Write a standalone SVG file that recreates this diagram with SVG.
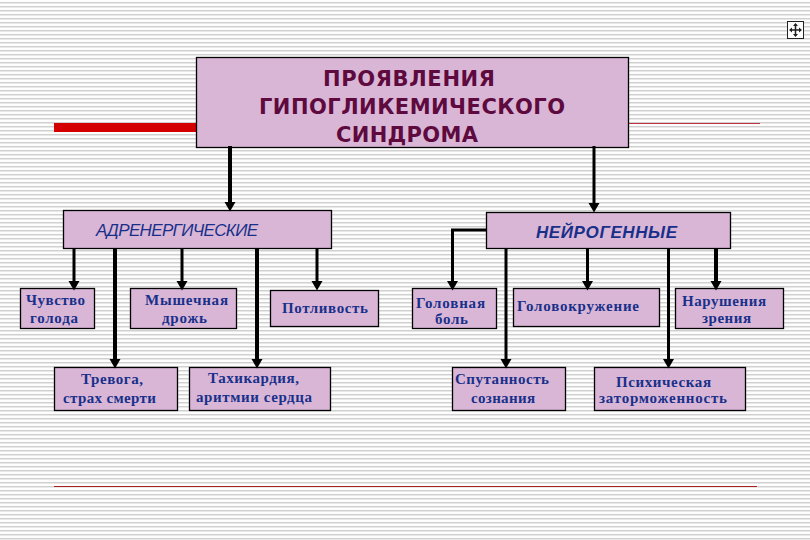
<svg xmlns="http://www.w3.org/2000/svg" width="810" height="540" viewBox="0 0 810 540">
<defs>
<pattern id="stripes" width="4" height="4" patternUnits="userSpaceOnUse"><rect width="4" height="4" fill="#fdfdfd"/><rect y="2" width="4" height="1" fill="#d0d0d0"/><rect y="3" width="4" height="1" fill="#e8e8e8"/></pattern>
<marker id="ah" markerUnits="userSpaceOnUse" markerWidth="10" markerHeight="12" refX="5" refY="5.500" orient="auto" viewBox="0 0 10 11"><path d="M0 0L9.500 5.500L0 11Z" fill="#000"/></marker>
</defs>
<style>
.box{fill:#d9b6d6;stroke:#000;stroke-width:1.300}
.t{font-family:"Liberation Serif","DejaVu Serif",serif;font-weight:bold;font-size:15px;fill:#18308a;text-anchor:middle}
.h{font-family:"DejaVu Sans","Liberation Sans",sans-serif;font-weight:bold;font-size:21px;fill:#5e0a3e;text-anchor:middle}
.c{fill:none;stroke:#000;stroke-width:3}
.w{stroke-width:4}
</style>
<rect width="810" height="540" fill="url(#stripes)"/>
<g id="rules">
<rect x="54" y="123" width="143" height="9" fill="#d40000"/>
<line x1="629" y1="123.500" x2="760" y2="123.500" stroke="#c03040" stroke-width="1"/>
<line x1="54" y1="486.500" x2="757" y2="486.500" stroke="#a82020" stroke-width="1"/>
</g>
<g id="nav-icon"><rect x="787.500" y="21.500" width="16" height="17" fill="#fff" stroke="#222" stroke-width="1"/><path d="M795.500 24V36M790 30H801" stroke="#222" stroke-width="1.500" fill="none"/><path d="M795.500 23L793 26H798ZM795.500 37L793 34H798ZM789 30L792 27.500V32.500ZM802 30L799 27.500V32.500Z" fill="#222"/></g>
<g id="n-root"><rect class="box" x="196.500" y="57.500" width="432" height="90"/><text class="h" x="409" y="86" textLength="172">ПРОЯВЛЕНИЯ</text><text class="h" x="412" y="114" textLength="306">ГИПОГЛИКЕМИЧЕСКОГО</text><text class="h" x="407" y="142" textLength="142">СИНДРОМА</text></g>
<g id="n-adr"><rect class="box" x="63.500" y="210.500" width="268" height="38"/><text x="177" y="236" textLength="162" style="font-family:'Liberation Sans',sans-serif;font-style:italic;font-size:17px;fill:#18308a;text-anchor:middle">АДРЕНЕРГИЧЕСКИЕ</text></g>
<g id="n-neu"><rect class="box" x="486.500" y="212.500" width="244" height="36"/><text x="606.500" y="238" textLength="141" style="font-family:'Liberation Sans',sans-serif;font-style:italic;font-weight:bold;font-size:17px;fill:#18308a;text-anchor:middle">НЕЙРОГЕННЫЕ</text></g>
<g id="n1"><rect class="box" x="20.500" y="288.500" width="74" height="40"/><text class="t" x="55.500" y="305" textLength="59">Чувство</text><text class="t" x="54" y="323" textLength="48">голода</text></g>
<g id="n2"><rect class="box" x="130.500" y="288.500" width="106" height="40"/><text class="t" x="186.500" y="305" textLength="83">Мышечная</text><text class="t" x="184.500" y="323" textLength="45">дрожь</text></g>
<g id="n3"><rect class="box" x="270.500" y="290.500" width="108" height="36"/><text class="t" x="325" y="313" textLength="86">Потливость</text></g>
<g id="n4"><rect class="box" x="54.500" y="367.500" width="123" height="43"/><text class="t" x="112" y="384" textLength="62">Тревога,</text><text class="t" x="109.500" y="403" textLength="93">страх смерти</text></g>
<g id="n5"><rect class="box" x="189.500" y="367.500" width="141" height="43"/><text class="t" x="253.500" y="383" textLength="91">Тахикардия,</text><text class="t" x="254" y="402" textLength="116">аритмии сердца</text></g>
<g id="n6"><rect class="box" x="412.500" y="288.500" width="84" height="40"/><text class="t" x="450.500" y="308" textLength="69">Головная</text><text class="t" x="451.500" y="324" textLength="33">боль</text></g>
<g id="n7"><rect class="box" x="513.500" y="288.500" width="146" height="38"/><text class="t" x="578" y="311" textLength="122">Головокружение</text></g>
<g id="n8"><rect class="box" x="675.500" y="288.500" width="108" height="40"/><text class="t" x="724" y="306" textLength="84">Нарушения</text><text class="t" x="726.500" y="323" textLength="49">зрения</text></g>
<g id="n9"><rect class="box" x="452.500" y="367.500" width="113" height="43"/><text class="t" x="502" y="384" textLength="94">Спутанность</text><text class="t" x="503" y="403" textLength="64">сознания</text></g>
<g id="n10"><rect class="box" x="594.500" y="367.500" width="151" height="43"/><text class="t" x="663.500" y="387" textLength="95">Психическая</text><text class="t" x="663" y="403" textLength="128">заторможенность</text></g>
<g id="connectors">
<path class="c w" d="M230 146V207" marker-end="url(#ah)"/>
<path class="c" d="M594 146V208" marker-end="url(#ah)"/>
<path class="c" d="M74 248V286" marker-end="url(#ah)"/>
<path class="c w" d="M115 248V364" marker-end="url(#ah)"/>
<path class="c" d="M182 248V286" marker-end="url(#ah)"/>
<path class="c w" d="M257 248V364" marker-end="url(#ah)"/>
<path class="c" d="M317 248V286" marker-end="url(#ah)"/>
<path class="c" d="M486 230H452.500V286" marker-end="url(#ah)"/>
<path class="c" d="M506 248V364" marker-end="url(#ah)"/>
<path class="c" d="M587.500 248V286" marker-end="url(#ah)"/>
<path class="c" d="M668.500 248V364" marker-end="url(#ah)"/>
<path class="c w" d="M716 248V286" marker-end="url(#ah)"/>
</g>
</svg>
